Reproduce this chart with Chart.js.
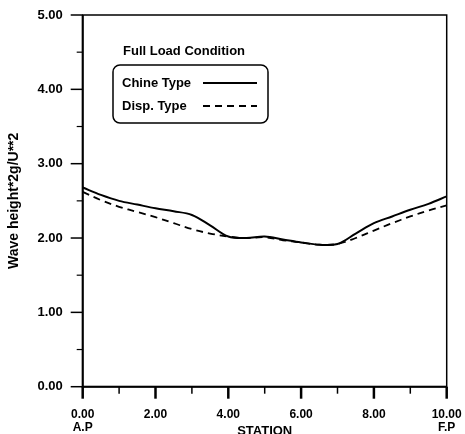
<!DOCTYPE html>
<html>
<head>
<meta charset="utf-8">
<script src="https://cdn.jsdelivr.net/npm/chart.js@4"></script>
<style>
  body { margin: 0; background: #fff; }
  canvas { display: block; }
</style>
</head>
<body>
<canvas id="waveChart" width="465" height="434"></canvas>
<script>
// stations along the hull (A.P = 0, F.P = 10)
const stations = [0, 0.5, 1, 1.5, 2, 2.5, 3, 3.5, 4, 4.5, 5, 5.5, 6, 6.5, 7, 7.5, 8, 8.5, 9, 9.5, 10];
// wave height * 2g / U^2
const chineType = [2.68, 2.58, 2.50, 2.45, 2.40, 2.36, 2.31, 2.17, 2.02, 2.00, 2.02, 1.98, 1.94, 1.91, 1.92, 2.06, 2.20, 2.29, 2.38, 2.46, 2.56];
const dispType  = [2.62, 2.51, 2.42, 2.35, 2.28, 2.20, 2.12, 2.06, 2.02, 2.00, 2.01, 1.97, 1.94, 1.91, 1.92, 2.00, 2.10, 2.20, 2.29, 2.37, 2.44];
const seriesNames = ['Chine Type', 'Disp. Type'];
const legendTitle = 'Full Load Condition';

const FONT = '"Liberation Sans", Arial, sans-serif';

function toPoints(ys) {
    return stations.map((s, i) => ({ x: s, y: ys[i] }));
}

// frame, tick marks and the boxed legend
const framePlugin = {
    id: 'frame',
    afterDraw(chart) {
        const ctx = chart.ctx;
        const a = chart.chartArea;
        const xs = chart.scales.x;
        const ys = chart.scales.y;
        ctx.save();
        ctx.strokeStyle = '#000';

        // plot box
        ctx.lineWidth = 1.5;
        ctx.strokeRect(a.left, a.top, a.right - a.left, a.bottom - a.top);
        ctx.lineWidth = 2;
        ctx.beginPath();
        ctx.moveTo(a.left, a.top);
        ctx.lineTo(a.left, a.bottom);
        ctx.lineTo(a.right, a.bottom);
        ctx.stroke();

        // y ticks (outside, left)
        for (let v = 0; v <= 5; v += 0.5) {
            const py = ys.getPixelForValue(v);
            const major = v % 1 === 0;
            ctx.lineWidth = major ? 1.5 : 1.2;
            ctx.beginPath();
            ctx.moveTo(a.left - (major ? 12 : 6), py);
            ctx.lineTo(a.left, py);
            ctx.stroke();
        }
        // x ticks (outside, below)
        for (let v = 0; v <= 10; v += 1) {
            const px = xs.getPixelForValue(v);
            const major = v % 2 === 0;
            ctx.lineWidth = major ? 2.5 : 1.5;
            ctx.beginPath();
            ctx.moveTo(px, a.bottom);
            ctx.lineTo(px, a.bottom + (major ? 12 : 7));
            ctx.stroke();
        }

        // legend
        ctx.fillStyle = '#000';
        ctx.font = 'bold 13px ' + FONT;
        ctx.textBaseline = 'middle';
        ctx.textAlign = 'left';
        ctx.fillText(legendTitle, 123, 51);

        ctx.lineWidth = 1.5;
        ctx.beginPath();
        ctx.roundRect(113, 65, 155, 58, 7);
        ctx.stroke();

        const rows = [83, 106];
        chart.data.datasets.forEach((ds, i) => {
            ctx.fillText(seriesNames[i], 122, rows[i]);
            ctx.lineWidth = 2;
            ctx.setLineDash(ds.borderDash || []);
            ctx.beginPath();
            ctx.moveTo(203, rows[i]);
            ctx.lineTo(257, rows[i]);
            ctx.stroke();
            ctx.setLineDash([]);
        });
        ctx.restore();
    }
};

const ctxWave = document.getElementById('waveChart').getContext('2d');
const waveChart = new Chart(ctxWave, {
    type: 'line',
    data: {
        datasets: [{
            label: seriesNames[0],
            data: toPoints(chineType),
            borderColor: '#000',
            borderWidth: 2,
            pointRadius: 0,
            tension: 0.35,
            fill: false
        }, {
            label: seriesNames[1],
            data: toPoints(dispType),
            borderColor: '#000',
            borderWidth: 1.8,
            borderDash: [7, 5],
            pointRadius: 0,
            tension: 0.35,
            fill: false
        }]
    },
    options: {
        responsive: false,
        devicePixelRatio: 1,
        animation: false,
        layout: { padding: { top: 15, right: 18.3, left: 0, bottom: 0 } },
        plugins: {
            legend: { display: false },
            tooltip: { enabled: false }
        },
        scales: {
            x: {
                type: 'linear',
                min: 0,
                max: 10,
                grid: { display: false, drawTicks: false },
                border: { display: false },
                ticks: {
                    stepSize: 2,
                    autoSkip: false,
                    maxRotation: 0,
                    padding: 22,
                    color: '#000',
                    font: { family: FONT, size: 12, weight: 'bold', lineHeight: 1.08 },
                    callback: v => v === 0 ? ['0.00', 'A.P'] : v === 10 ? ['10.00', 'F.P'] : v.toFixed(2)
                },
                title: {
                    display: true,
                    text: 'STATION',
                    color: '#000',
                    padding: -5,
                    font: { family: FONT, size: 13, weight: 'bold' }
                },
                afterFit: s => {
                    s.height = 47.3;
                    s.paddingLeft = 0;
                    s.paddingRight = 0;
                }
            },
            y: {
                min: 0,
                max: 5,
                grid: { display: false, drawTicks: false },
                border: { display: false },
                ticks: {
                    stepSize: 1,
                    padding: 20,
                    color: '#000',
                    font: { family: FONT, size: 13, weight: 'bold' },
                    callback: v => v.toFixed(2)
                },
                title: {
                    display: true,
                    text: 'Wave height*2g/U**2',
                    color: '#000',
                    padding: 6,
                    font: { family: FONT, size: 14, weight: 'bold' }
                },
                afterFit: s => {
                    s.width = 82.7;
                    s.paddingTop = 0;
                    s.paddingBottom = 0;
                }
            }
        }
    },
    plugins: [framePlugin]
});
</script>
</body>
</html>
